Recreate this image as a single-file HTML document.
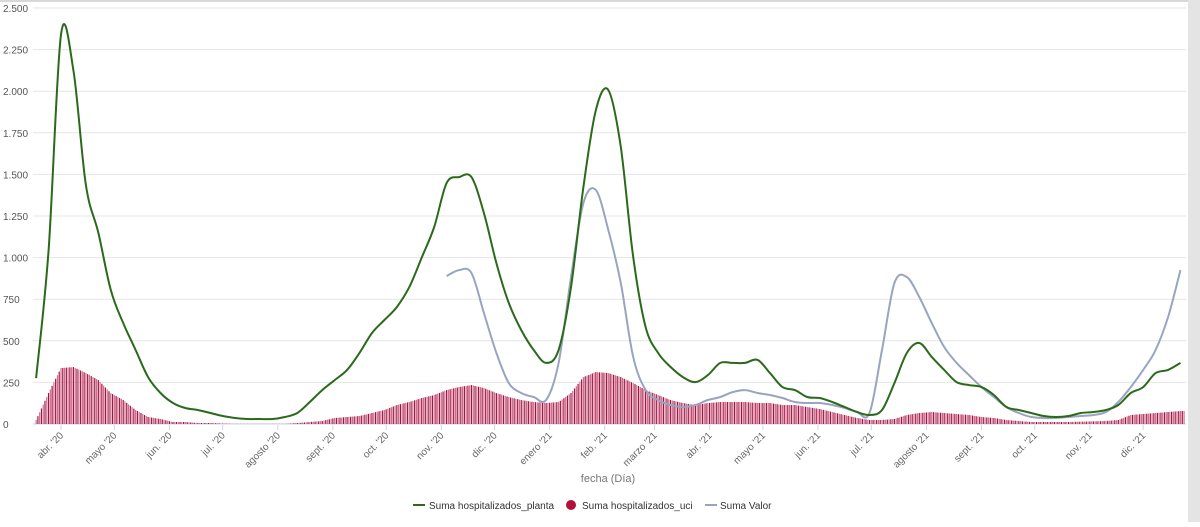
<!DOCTYPE html>
<html><head><meta charset="utf-8"><style>
body{margin:0;background:#fff;width:1200px;height:522px;overflow:hidden;font-family:"Liberation Sans",sans-serif}
</style></head><body>
<svg id="c" width="1200" height="522" xmlns="http://www.w3.org/2000/svg">
<rect x="0" y="0" width="1200" height="2" fill="#d8d8d8"/>
<rect x="1188" y="0" width="12" height="522" fill="#e4e4e4"/>
<g id="grid"></g><g id="bars"></g><g id="lines"></g><g id="axes"></g>
<text x="608" y="482" text-anchor="middle" font-size="11" fill="#777">fecha (Día)</text>
<g font-size="10" fill="#333">
<g><line x1="413" y1="505" x2="425" y2="505" stroke="#2a6a1a" stroke-width="2"/><text x="429" y="509">Suma hospitalizados_planta</text></g>
<g><circle cx="571" cy="505" r="5" fill="#b0103a"/><text x="582" y="509">Suma hospitalizados_uci</text></g>
<g><line x1="705" y1="505" x2="717" y2="505" stroke="#98a4c0" stroke-width="2"/><text x="720" y="509">Suma Valor</text></g>
</g>
</svg>
<script>
// days since 2020-04-01, weekly
const days = [];
for (let d = -14; d <= 630; d += 7) days.push(d);
const planta = [276,1045,2340,2125,1436,1150,805,607,445,282,186,126,96,84,66,48,36,30,30,30,42,66,132,204,264,325,427,547,625,703,823,1000,1184,1448,1484,1484,1268,967,727,565,445,367,445,823,1424,1887,2007,1665,1004,583,427,343,282,252,294,367,367,367,385,306,222,204,162,156,132,102,72,54,84,246,427,487,403,325,252,234,222,174,102,84,66,48,42,48,66,72,84,114,186,222,306,325,367];
const valorStart = 217;
const valor = [889,925,907,667,427,246,186,162,144,367,883,1328,1406,1166,847,403,204,144,114,102,114,144,162,192,204,186,174,156,132,126,126,114,96,72,66,445,847,883,763,607,463,367,294,222,162,102,66,42,36,36,42,48,54,72,132,222,325,445,643,925];
const uci = [24,186,336,342,306,264,186,144,84,42,30,12,12,6,6,3,1,1,1,1,1,6,12,18,36,42,48,66,84,114,132,156,174,204,222,234,216,186,162,144,132,126,132,186,282,312,306,282,246,204,174,144,126,114,126,132,132,132,126,126,114,114,102,90,72,54,36,24,24,30,54,66,72,66,60,54,42,36,24,18,12,12,12,12,14,16,18,24,54,60,66,72,78];
const yTicks = [0,250,500,750,1000,1250,1500,1750,2000,2250,2500];
const yTickLabels = ["0","250","500","750","1.000","1.250","1.500","1.750","2.000","2.250","2.500"];
const monthDays = [0,30,61,91,122,153,183,214,244,275,306,334,365,395,426,456,487,518,548,579,609];
const monthLabels = ["abr. '20","mayo '20","jun. '20","jul. '20","agosto '20","sept. '20","oct. '20","nov. '20","dic. '20","enero '21","feb. '21","marzo '21","abr. '21","mayo '21","jun. '21","jul. '21","agosto '21","sept. '21","oct. '21","nov. '21","dic. '21"];

const NS = "http://www.w3.org/2000/svg";
const X = d => 61 + d * 1.777;
const Y = v => 424 - v * 0.1664;
function mk(tag, attrs, parent) { const e = document.createElementNS(NS, tag); for (const k in attrs) e.setAttribute(k, attrs[k]); document.getElementById(parent).appendChild(e); return e; }

yTicks.forEach((v, i) => {
  const l = mk("line", {x1: 33, x2: 1186, y1: Y(v), y2: Y(v), stroke: v === 0 ? "#ccd6eb" : "#e6e6e6", "stroke-width": 1}, "grid");
  
  
  const t = mk("text", {x: 3, y: Y(v) + 4, "font-size": 10, fill: "#555"}, "axes");
  t.textContent = yTickLabels[i];
  
  
});
monthDays.forEach((d, i) => {
  const x = X(d);
  const tk = mk("line", {x1: x, x2: x, y1: 425, y2: 430, stroke: "#ccd6eb"}, "axes");
  
  
  const t = mk("text", {x: x + 3, y: 436, "font-size": 10, fill: "#666", "text-anchor": "end", transform: `rotate(-45 ${x + 3} 436)`}, "axes");
  t.textContent = monthLabels[i];
  
  
});
// UCI bars: drawn per day, heights rendered between weekly readings
for (let i = 0; i < uci.length; i++) {
  const a = uci[i], b = i + 1 < uci.length ? uci[i + 1] : uci[i];
  for (let k = 0; k < 7; k++) {
    const d = days[i] + k;
    if (d > 632) break;
    const v = a + (b - a) * k / 7;
    const bar = mk("rect", {x: X(d) - 0.6, y: Y(v), width: 1.2, height: 424 - Y(v), fill: (d & 1) ? "#a8103f" : "#c9708f"}, "bars");
    
    
  }
}
function path(arr, d0) {
  const p = arr.map((v, i) => [X(d0 + i * 7), Y(v)]);
  let s = "M" + p[0][0].toFixed(1) + "," + p[0][1].toFixed(1);
  for (let i = 0; i < p.length - 1; i++) {
    const p0 = p[i - 1] || p[i], p1 = p[i], p2 = p[i + 1], p3 = p[i + 2] || p2;
    const c1 = [p1[0] + (p2[0] - p0[0]) / 6, p1[1] + (p2[1] - p0[1]) / 6];
    const c2 = [p2[0] - (p3[0] - p1[0]) / 6, p2[1] - (p3[1] - p1[1]) / 6];
    s += "C" + c1.map(n => n.toFixed(1)).join(",") + " " + c2.map(n => n.toFixed(1)).join(",") + " " + p2.map(n => n.toFixed(1)).join(",");
  }
  return s;
}
const pv = mk("path", {d: path(valor, valorStart), fill: "none", stroke: "#98a4c0", "stroke-width": 2, "stroke-linejoin": "round"}, "lines");


const pp = mk("path", {d: path(planta, days[0]), fill: "none", stroke: "#2a6a1a", "stroke-width": 2, "stroke-linejoin": "round"}, "lines");


</script>
</body></html>
